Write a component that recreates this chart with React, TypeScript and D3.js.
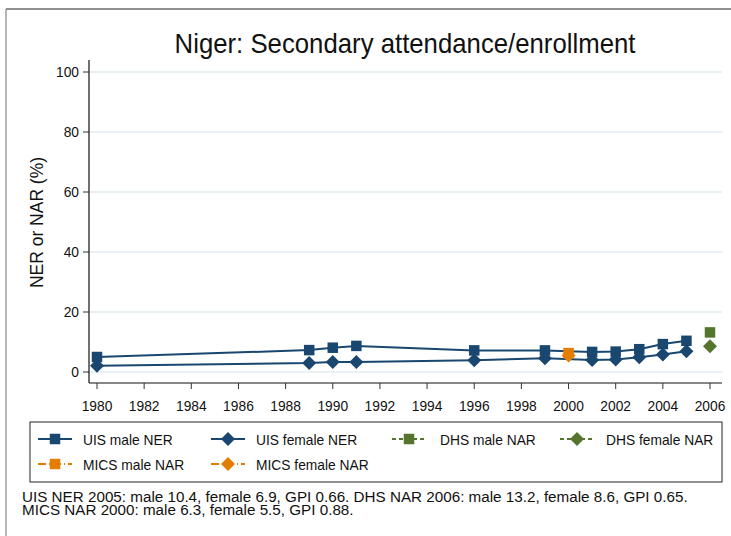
import React from "react";
import * as d3 from "d3";

const uisYears = [1980, 1989, 1990, 1991, 1996, 1999, 2001, 2002, 2003, 2004, 2005];
const uisMale = [5.0, 7.3, 8.1, 8.7, 7.2, 7.2, 6.7, 6.8, 7.6, 9.3, 10.4];
const uisFemale = [2.1, 3.0, 3.3, 3.3, 3.9, 4.6, 4.0, 4.2, 4.9, 5.8, 6.9];
const dhsYears = [2006];
const dhsMale = [13.2];
const dhsFemale = [8.6];
const micsYears = [2000];
const micsMale = [6.3];
const micsFemale = [5.5];
const xTicks = [1980, 1982, 1984, 1986, 1988, 1990, 1992, 1994, 1996, 1998, 2000, 2002, 2004, 2006];
const yTicks = [0, 20, 40, 60, 80, 100];
const legendLabels = ["UIS male NER", "UIS female NER", "DHS male NAR", "DHS female NAR", "MICS male NAR", "MICS female NAR"];
const captionLines = [
  "UIS NER 2005: male 10.4, female 6.9, GPI 0.66. DHS NAR 2006: male 13.2, female 8.6, GPI 0.65.",
  "MICS NAR 2000: male 6.3, female 5.5, GPI 0.88.",
];
const title = "Niger: Secondary attendance/enrollment";
const yTitle = "NER or NAR (%)";

const NAVY = "#1a476f";
const GREEN = "#55752f";
const ORANGE = "#e37e00";
const FONT = "'Liberation Sans', Arial, sans-serif";

function Marker({ type, x, y, color }: { type: string; x: number; y: number; color: string }) {
  if (type === "square") {
    const s = 10.5;
    return <rect x={x - s / 2} y={y - s / 2} width={s} height={s} fill={color} />;
  }
  const r = 7;
  return <path d={`M${x},${y - r}L${x + r},${y}L${x},${y + r}L${x - r},${y}Z`} fill={color} />;
}

function T({ x, y, size, anchor, children, sx = 0.92 }: any) {
  return (
    <text transform={`translate(${x},${y}) scale(${sx},1)`} fontSize={size} textAnchor={anchor || "start"} fill="#111">
      {children}
    </text>
  );
}

export default function App() {
  const W = 731, H = 536;
  const plotLeft = 89, plotRight = 722, plotTop = 60, plotBottom = 383;
  const x = d3.scaleLinear().domain([1980, 2006]).range([97, 710]);
  const y = d3.scaleLinear().domain([0, 100]).range([372, 72]);
  const line = d3.line<[number, number]>().x(d => x(d[0])).y(d => y(d[1]));

  const series = [
    { xs: uisYears, ys: uisMale, color: NAVY, marker: "square", dash: "" },
    { xs: uisYears, ys: uisFemale, color: NAVY, marker: "diamond", dash: "" },
    { xs: dhsYears, ys: dhsMale, color: GREEN, marker: "square", dash: "4,3" },
    { xs: dhsYears, ys: dhsFemale, color: GREEN, marker: "diamond", dash: "4,3" },
    { xs: micsYears, ys: micsMale, color: ORANGE, marker: "square", dash: "8,3,1,3" },
    { xs: micsYears, ys: micsFemale, color: ORANGE, marker: "diamond", dash: "8,3,1,3" },
  ];

  const legendPos = [
    { kx: 38, lx: 83, ly: 439 },
    { kx: 211, lx: 256, ly: 439 },
    { kx: 392, lx: 440, ly: 439 },
    { kx: 560, lx: 606, ly: 439 },
    { kx: 38, lx: 83, ly: 464 },
    { kx: 211, lx: 256, ly: 464 },
  ];

  return (
    <svg width={W} height={H} style={{ display: "block", position: "absolute", left: 0, top: 0 }} fontFamily={FONT}>
      <rect x={0} y={0} width={W} height={H} fill="white" />
      <line x1={6} y1={9} x2={W} y2={9} stroke="#222" strokeWidth={1.2} />
      <line x1={6} y1={9} x2={6} y2={H} stroke="#888" strokeWidth={1.2} />
      <T x={405} y={53} size={28} anchor="middle">{title}</T>

      {yTicks.map(t => (
        <g key={"y" + t}>
          <line x1={plotLeft + 1} x2={plotRight} y1={y(t)} y2={y(t)} stroke="#eaf1f4" strokeWidth={2} />
          <line x1={83} x2={plotLeft} y1={y(t)} y2={y(t)} stroke="#333" strokeWidth={1} />
          <T x={79} y={y(t) + 5} size={15} anchor="end">{t}</T>
        </g>
      ))}
      <line x1={plotLeft} x2={plotLeft} y1={plotTop} y2={plotBottom} stroke="#111" strokeWidth={1.2} />
      <line x1={plotLeft} x2={plotRight} y1={plotBottom} y2={plotBottom} stroke="#111" strokeWidth={1.2} />
      {xTicks.map(t => (
        <g key={"x" + t}>
          <line x1={x(t)} x2={x(t)} y1={plotBottom} y2={plotBottom + 6} stroke="#333" strokeWidth={1} />
          <T x={x(t)} y={plotBottom + 28} size={15} anchor="middle">{t}</T>
        </g>
      ))}
      <text transform={`translate(43,${(plotTop + plotBottom) / 2 + 1}) rotate(-90) scale(0.92,1)`} textAnchor="middle" fontSize={19} fill="#111">{yTitle}</text>

      {series.map((s, i) => {
        const pts = s.xs.map((v, j) => [v, s.ys[j]] as [number, number]);
        return (
          <g key={"s" + i}>
            {pts.length > 1 && <path d={line(pts) || ""} fill="none" stroke={s.color} strokeWidth={2} strokeDasharray={s.dash || undefined} />}
            {pts.map((p, j) => <Marker key={j} type={s.marker} x={x(p[0])} y={y(p[1])} color={s.color} />)}
          </g>
        );
      })}

      <rect x={30} y={422} width={692} height={60} fill="none" stroke="#222" strokeWidth={1} />
      {series.map((s, i) => {
        const p = legendPos[i];
        const ky = p.ly;
        return (
          <g key={"l" + i}>
            <line x1={p.kx} x2={p.kx + 34} y1={ky} y2={ky} stroke={s.color} strokeWidth={2} strokeDasharray={s.dash || undefined} />
            <Marker type={s.marker} x={p.kx + 17} y={ky} color={s.color} />
            <T x={p.lx} y={p.ly + 6} size={15}>{legendLabels[i]}</T>
          </g>
        );
      })}

      {captionLines.map((c, i) => (
        <T key={"c" + i} x={22} y={502 + i * 12.5} size={14.5} sx={1.05}>{c}</T>
      ))}
    </svg>
  );
}
